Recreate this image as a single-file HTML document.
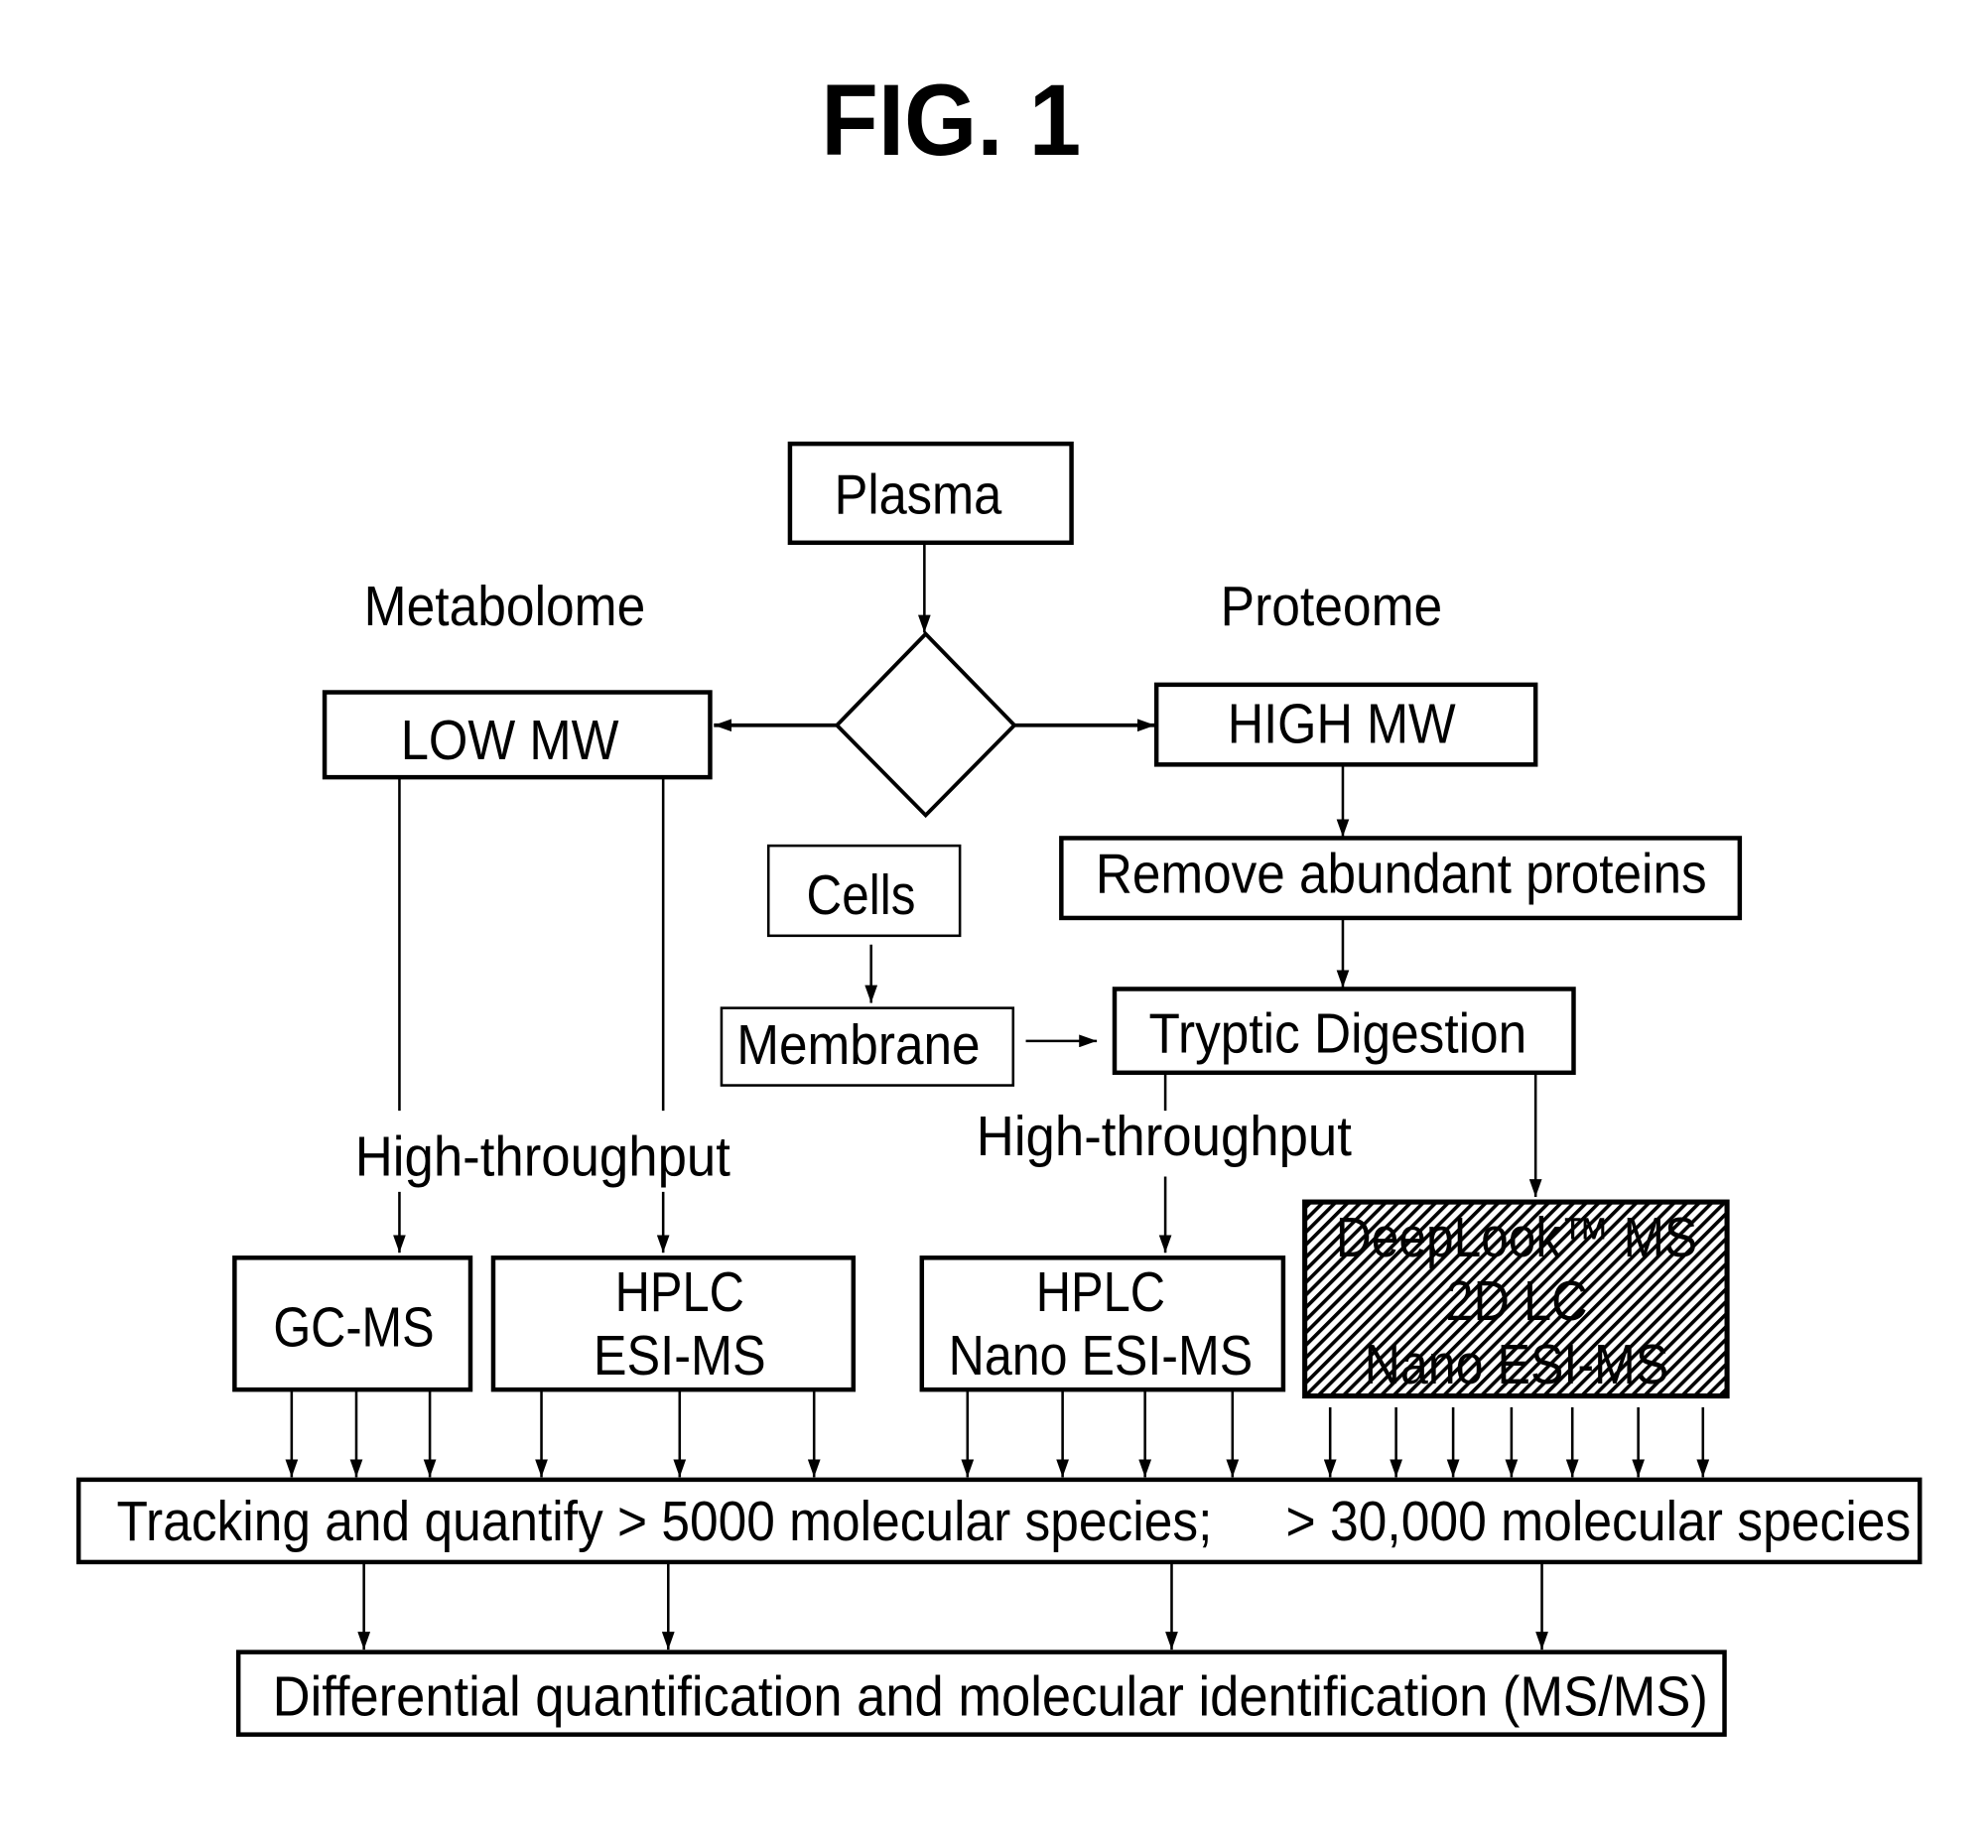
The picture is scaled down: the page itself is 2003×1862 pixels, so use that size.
<!DOCTYPE html>
<html><head><meta charset="utf-8"><style>html,body{margin:0;padding:0;background:#fff}svg{display:block}</style></head>
<body>
<svg width="2003" height="1862" viewBox="0 0 1567.8 1457.5" preserveAspectRatio="none" xmlns="http://www.w3.org/2000/svg" font-family="Liberation Sans, Arial, sans-serif">
<defs>
<marker id="a" markerWidth="14" markerHeight="10" refX="14" refY="5" orient="auto" markerUnits="userSpaceOnUse"><path d="M0,0 L14,5 L0,10 z" fill="#000"/></marker>
<pattern id="h" width="7" height="7" patternUnits="userSpaceOnUse" patternTransform="rotate(45)"><rect width="7" height="7" fill="#fff"/><rect width="2.8" height="7" fill="#000"/></pattern>
</defs>
<text x="750" y="122" font-size="80" font-weight="bold" text-anchor="middle" textLength="205" lengthAdjust="spacingAndGlyphs">FIG. 1</text>
<g fill="none" stroke="#000">
<rect x="623" y="350" width="222" height="78" stroke-width="3.5"/>
<path d="M730,500 L800,572 L730,643 L660,572 Z" stroke-width="3"/>
<rect x="256" y="546" width="304" height="67" stroke-width="3.5"/>
<rect x="912" y="540" width="299" height="63" stroke-width="3.5"/>
<rect x="837" y="661" width="535" height="63" stroke-width="3.5"/>
<rect x="879" y="780" width="362" height="66" stroke-width="3.5"/>
<rect x="606" y="667" width="151" height="71" stroke-width="2"/>
<rect x="569" y="795" width="230" height="61" stroke-width="2"/>
<rect x="185" y="992" width="186" height="104" stroke-width="3.5"/>
<rect x="389" y="992" width="284" height="104" stroke-width="3.5"/>
<rect x="727" y="992" width="285" height="104" stroke-width="3.5"/>
<rect x="1029" y="948" width="333" height="153" stroke-width="4" fill="url(#h)"/>
<rect x="62" y="1167" width="1452" height="65" stroke-width="3.5"/>
<rect x="188" y="1303" width="1172" height="65" stroke-width="3.5"/>
</g>
<g stroke="#000" stroke-width="2" fill="none" marker-end="url(#a)">
<line x1="729" y1="428" x2="729" y2="499"/>
<line x1="660" y1="572" x2="563" y2="572" stroke-width="3"/>
<line x1="800" y1="572" x2="911" y2="572" stroke-width="3"/>
<line x1="1059" y1="603" x2="1059" y2="660"/>
<line x1="1059" y1="724" x2="1059" y2="779"/>
<line x1="687" y1="745" x2="687" y2="791"/>
<line x1="809" y1="821" x2="865" y2="821"/>
<line x1="315" y1="940" x2="315" y2="988"/>
<line x1="523" y1="940" x2="523" y2="988"/>
<line x1="919" y1="928" x2="919" y2="988"/>
<line x1="1211" y1="846" x2="1211" y2="944"/>
<line x1="230" y1="1097" x2="230" y2="1165"/><line x1="281" y1="1097" x2="281" y2="1165"/><line x1="339" y1="1097" x2="339" y2="1165"/>
<line x1="427" y1="1097" x2="427" y2="1165"/><line x1="536" y1="1097" x2="536" y2="1165"/><line x1="642" y1="1097" x2="642" y2="1165"/>
<line x1="763" y1="1097" x2="763" y2="1165"/><line x1="838" y1="1097" x2="838" y2="1165"/><line x1="903" y1="1097" x2="903" y2="1165"/><line x1="972" y1="1097" x2="972" y2="1165"/>
<line x1="1049" y1="1110" x2="1049" y2="1165"/><line x1="1101" y1="1110" x2="1101" y2="1165"/><line x1="1146" y1="1110" x2="1146" y2="1165"/><line x1="1192" y1="1110" x2="1192" y2="1165"/><line x1="1240" y1="1110" x2="1240" y2="1165"/><line x1="1292" y1="1110" x2="1292" y2="1165"/><line x1="1343" y1="1110" x2="1343" y2="1165"/>
<line x1="287" y1="1232" x2="287" y2="1301"/><line x1="527" y1="1232" x2="527" y2="1301"/><line x1="924" y1="1232" x2="924" y2="1301"/><line x1="1216" y1="1232" x2="1216" y2="1301"/>
</g>
<g stroke="#000" stroke-width="2">
<line x1="315" y1="613" x2="315" y2="876"/>
<line x1="523" y1="613" x2="523" y2="876"/>
<line x1="919" y1="846" x2="919" y2="876"/>
</g>
<g font-size="44" text-anchor="middle" fill="#000">
<text x="724" y="405" textLength="132" lengthAdjust="spacingAndGlyphs">Plasma</text>
<text x="398" y="493" textLength="222" lengthAdjust="spacingAndGlyphs">Metabolome</text>
<text x="1050" y="493" textLength="175" lengthAdjust="spacingAndGlyphs">Proteome</text>
<text x="402" y="599" textLength="172" lengthAdjust="spacingAndGlyphs">LOW MW</text>
<text x="1058" y="586" textLength="180" lengthAdjust="spacingAndGlyphs">HIGH MW</text>
<text x="1105" y="704" textLength="482" lengthAdjust="spacingAndGlyphs">Remove abundant proteins</text>
<text x="679" y="721" textLength="86" lengthAdjust="spacingAndGlyphs">Cells</text>
<text x="677" y="839" textLength="192" lengthAdjust="spacingAndGlyphs">Membrane</text>
<text x="1055" y="830" textLength="298" lengthAdjust="spacingAndGlyphs">Tryptic Digestion</text>
<text x="428" y="927" textLength="296" lengthAdjust="spacingAndGlyphs">High-throughput</text>
<text x="918" y="911" textLength="296" lengthAdjust="spacingAndGlyphs">High-throughput</text>
<text x="279" y="1062" textLength="127" lengthAdjust="spacingAndGlyphs">GC-MS</text>
<text x="536" y="1034" textLength="102" lengthAdjust="spacingAndGlyphs">HPLC</text>
<text x="536" y="1084" textLength="136" lengthAdjust="spacingAndGlyphs">ESI-MS</text>
<text x="868" y="1034" textLength="102" lengthAdjust="spacingAndGlyphs">HPLC</text>
<text x="868" y="1084" textLength="240" lengthAdjust="spacingAndGlyphs">Nano ESI-MS</text>
<text x="1196" y="991" textLength="285" lengthAdjust="spacingAndGlyphs">DeepLook™ MS</text>
<text x="1196" y="1041" textLength="112" lengthAdjust="spacingAndGlyphs">2D LC</text>
<text x="1196" y="1091" textLength="240" lengthAdjust="spacingAndGlyphs">Nano ESI-MS</text>
<text x="92" y="1215" text-anchor="start" textLength="864" lengthAdjust="spacingAndGlyphs">Tracking and quantify &gt; 5000 molecular species;</text>
<text x="1014" y="1215" text-anchor="start" textLength="493" lengthAdjust="spacingAndGlyphs">&gt; 30,000 molecular species</text>
<text x="215" y="1353" text-anchor="start" textLength="1132" lengthAdjust="spacingAndGlyphs">Differential quantification and molecular identification (MS/MS)</text>
</g>
</svg>
</body></html>
